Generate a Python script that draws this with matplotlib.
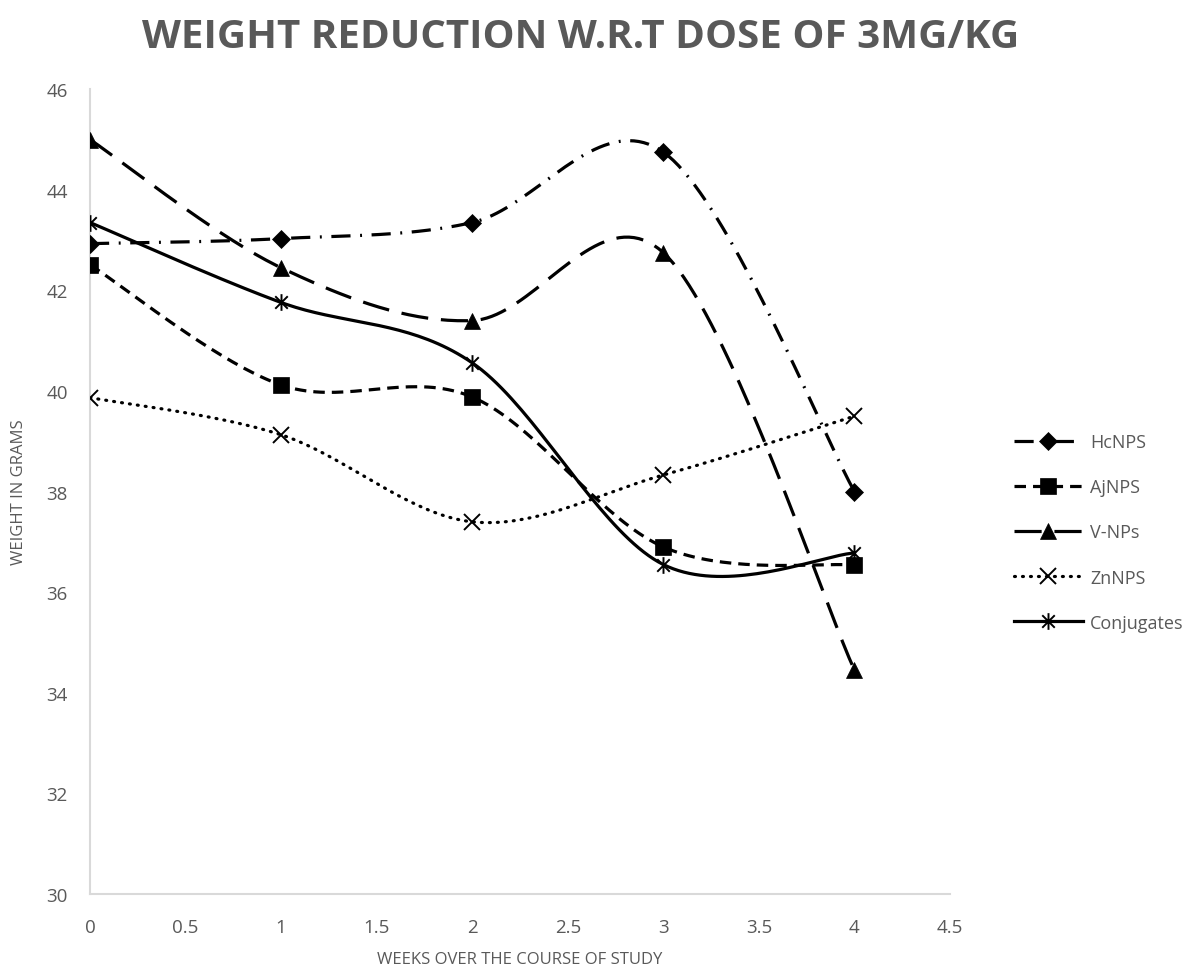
import matplotlib
matplotlib.use("Agg")
import matplotlib.pyplot as plt
import numpy as np
from matplotlib.path import Path

plt.rcParams['font.family'] = ['Open Sans', 'DejaVu Sans']

# weeks and body weight (g) per treatment group
weeks = [0, 1, 2, 3, 4]
hcnps = [42.93, 43.03, 43.35, 44.75, 38.0]
ajnps = [42.51, 40.12, 39.88, 36.9, 36.54]
vnps = [45.0, 42.45, 41.4, 42.75, 34.45]
znnps = [39.87, 39.13, 37.4, 38.33, 39.5]
conjugates = [43.35, 41.76, 40.56, 36.55, 36.78]

x_ticks = [0, 0.5, 1, 1.5, 2, 2.5, 3, 3.5, 4, 4.5]
y_ticks = [30, 32, 34, 36, 38, 40, 42, 44, 46]

GRAY = '#595959'
AXIS = '#D9D9D9'

# asterisk marker: vertical bar plus an x
star = Path([(0, -1), (0, 1), (-0.75, -0.75), (0.75, 0.75), (-0.75, 0.75), (0.75, -0.75)],
            [Path.MOVETO, Path.LINETO, Path.MOVETO, Path.LINETO, Path.MOVETO, Path.LINETO])


def smooth(xs, ys, n=40):
    """Spreadsheet-style smoothed line: cubic Bezier segments with
    Catmull-Rom control points (tension 1/6)."""
    p = np.column_stack([xs, ys]).astype(float)
    pts = np.vstack([p[0], p, p[-1]])
    out = []
    t = np.linspace(0, 1, n)[:, None]
    for i in range(1, len(pts) - 2):
        p0, p1, p2, p3 = pts[i - 1], pts[i], pts[i + 1], pts[i + 2]
        c1 = p1 + (p2 - p0) / 6
        c2 = p2 - (p3 - p1) / 6
        seg = ((1 - t) ** 3) * p1 + 3 * ((1 - t) ** 2) * t * c1 + 3 * (1 - t) * t ** 2 * c2 + t ** 3 * p2
        out.append(seg if i == 1 else seg[1:])
    out = np.vstack(out)
    return out[:, 0], out[:, 1]


series = [
    ('HcNPS', hcnps, (0, (6, 3, 0.6, 3)), 'D', 9.5, 'k'),
    ('AjNPS', ajnps, (0, (3.6, 2.2)), 's', 11, 'k'),
    ('V-NPs', vnps, (0, (8.5, 4)), '^', 11, 'k'),
    ('ZnNPS', znnps, (0, (0.3, 2.2)), 'x', 11, 'none'),
    ('Conjugates', conjugates, '-', star, 12, 'none'),
]

fig = plt.figure(figsize=(11.95, 9.70), dpi=100)
ax = fig.add_axes([0.0753, 0.0773, 0.7197, 0.8297])

handles = []
for name, vals, ls, mk, ms, mfc in series:
    sx, sy = smooth(weeks, vals)
    capstyle = 'round' if name == 'ZnNPS' else 'butt'
    mew = 1.4 if mfc == 'none' else 0.5
    ax.plot(sx, sy, color='k', lw=2.3, linestyle=ls, dash_capstyle=capstyle, zorder=2)
    ax.plot(weeks, vals, linestyle='none', marker=mk, markersize=ms,
            markerfacecolor=mfc, markeredgecolor='k', markeredgewidth=mew, zorder=3)
    h, = ax.plot([], [], color='k', lw=2.3, linestyle=ls, dash_capstyle=capstyle,
                 marker=mk, markersize=ms, markerfacecolor=mfc, markeredgecolor='k',
                 markeredgewidth=mew)
    handles.append(h)

ax.set_xlim(0, 4.5)
ax.set_ylim(30, 46)
ax.set_xticks(x_ticks)
ax.set_xticklabels([f'{v:g}' for v in x_ticks])
ax.set_yticks(y_ticks)
ax.tick_params(length=0, labelsize=13.5, labelcolor=GRAY)
ax.tick_params(axis='x', pad=17)
ax.tick_params(axis='y', pad=16)

for side in ('top', 'right'):
    ax.spines[side].set_visible(False)
for side in ('left', 'bottom'):
    ax.spines[side].set_color(AXIS)
    ax.spines[side].set_linewidth(1.5)

ax.set_xlabel('WEEKS OVER THE COURSE OF STUDY', fontsize=12, color=GRAY, labelpad=11)
ax.set_ylabel('WEIGHT IN GRAMS', fontsize=12, color=GRAY, labelpad=14)

fig.text(0.486, 0.961, 'WEIGHT REDUCTION W.R.T DOSE OF 3MG/KG', ha='center', va='center',
         fontsize=29, fontweight='bold', color=GRAY)

fig.legend(handles, [s[0] for s in series], loc='center left',
           bbox_to_anchor=(0.835, 0.45), frameon=False, fontsize=13,
           labelcolor=GRAY, handlelength=3.8, numpoints=1, labelspacing=1.5,
           handletextpad=0.4)

fig.savefig('out.png', dpi=100)
